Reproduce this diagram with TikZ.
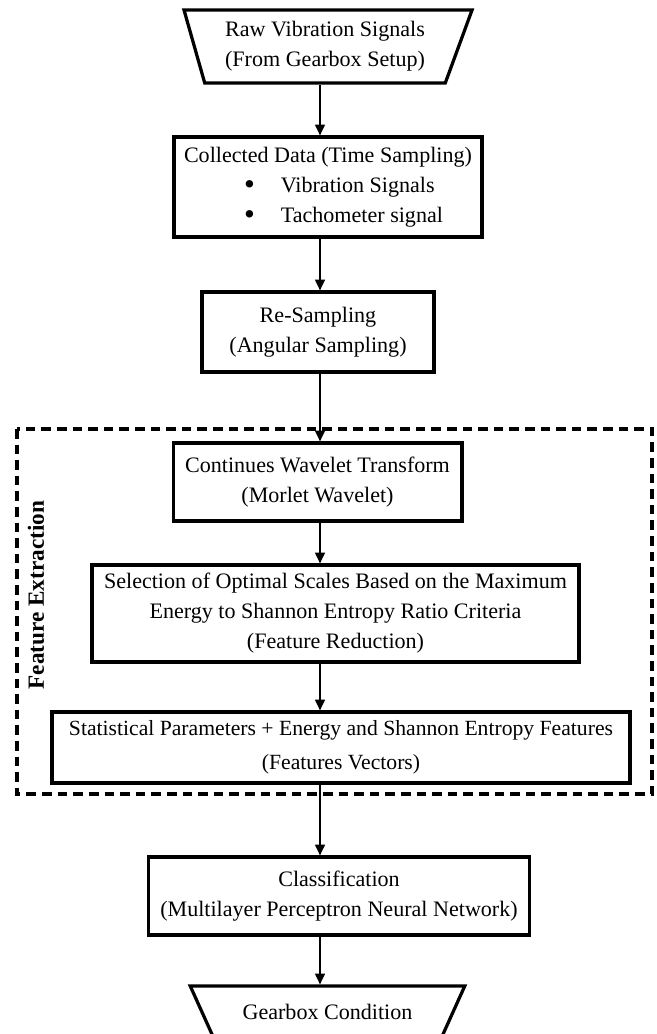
\documentclass[tikz,border=0pt]{standalone}
\usepackage{fontspec}
\usepackage{graphicx}
\setmainfont{Liberation Serif}
\usetikzlibrary{arrows.meta,shapes.geometric}
\newcommand{\bul}{\raisebox{-0.08em}{\scalebox{1.4}{\textbullet}}}

\begin{document}
\begin{tikzpicture}[
  x=0.025cm, y=-0.025cm,
  every node/.style={font=\fontsize{15.7}{21.3}\selectfont},
  blk/.style={rectangle, draw, line width=2.3pt, align=center, inner xsep=0.3cm},
  io/.style={trapezium, trapezium stretches, shape border rotate=180, draw, line width=2.3pt, align=center, inner sep=0pt},
  arr/.style={-{Triangle[length=0.27cm, width=0.25cm]}, line width=1pt},
  frame/.style={line width=2.3pt, dash pattern=on 0.24cm off 0.15cm}
]
% Page size
\useasboundingbox (0,0) rectangle (657,1034);
\clip (0,0) rectangle (657,1034);
\coordinate (axis) at (320,0);

% Flow blocks, top to bottom
\node[io, trapezium left angle=66, trapezium right angle=71, minimum width=7.2cm, minimum height=1.825cm] (raw) at (325,46.5) {Raw Vibration Signals\\(From Gearbox Setup)};
\node[blk, align=left, inner xsep=0.1cm, minimum width=7.7cm, minimum height=2.5cm] (collect) at (328,187) {Collected Data (Time Sampling)\\
  \hspace*{1.5cm}\bul\hspace{0.65cm}Vibration Signals\\
  \hspace*{1.5cm}\bul\hspace{0.65cm}Tachometer signal};
\node[blk, minimum width=5.8cm, minimum height=2cm] (resamp) at (318,332) {Re-Sampling\\(Angular Sampling)};
\node[blk, minimum width=7.175cm, minimum height=1.95cm] (cwt) at (317.5,482) {Continues Wavelet Transform\\(Morlet Wavelet)};
\node[blk, minimum width=12.125cm, minimum height=2.425cm] (select) at (335.5,613.5) {Selection of Optimal Scales Based on the Maximum\\Energy to Shannon Entropy Ratio Criteria\\(Feature Reduction)};
\node[blk, minimum width=14.45cm, minimum height=1.775cm, inner xsep=0.15cm, font=\fontsize{15.4}{24}\selectfont] (stats) at (341,747.5) {Statistical Parameters + Energy and Shannon Entropy Features\\(Features Vectors)};
\node[blk, minimum width=9.45cm, minimum height=1.95cm] (classif) at (339,896) {Classification\\(Multilayer Perceptron Neural Network)};
\node[io, trapezium left angle=41.6, trapezium right angle=41.6, minimum width=6.875cm, minimum height=1.3cm] (cond) at (327.5,1012) {Gearbox Condition};

% Feature extraction group
\draw[frame] (17,429) rectangle (652,794);
\node[font=\bfseries\fontsize{16.5}{20}\selectfont, rotate=90] (felbl) at (36,595) {Feature Extraction};

% Arrows
\draw[arr] (raw.south -| axis) -- (collect.north -| axis);
\draw[arr] (collect.south -| axis) -- (resamp.north -| axis);
\draw[arr] (resamp.south -| axis) -- (cwt.north -| axis);
\draw[arr] (cwt.south -| axis) -- (select.north -| axis);
\draw[arr] (select.south -| axis) -- (stats.north -| axis);
\draw[arr] (stats.south -| axis) -- (classif.north -| axis);
\draw[arr] (classif.south -| axis) -- (cond.north -| axis);
\end{tikzpicture}
\end{document}
